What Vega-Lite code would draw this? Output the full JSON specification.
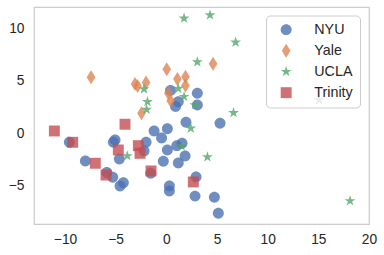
{
  "$schema": "https://vega.github.io/schema/vega-lite/v6.json",
  "width": 335,
  "height": 217,
  "autosize": {"type": "none"},
  "padding": {"left": 34, "top": 7, "right": 15, "bottom": 31},
  "background": "white",
  "data": {
    "values": [
      {"school": "NYU", "x": 0.41, "y": 4.07},
      {"school": "NYU", "x": 3.06, "y": 3.80},
      {"school": "NYU", "x": 3.06, "y": 2.69},
      {"school": "NYU", "x": 1.18, "y": 3.00},
      {"school": "NYU", "x": 0.91, "y": 2.55},
      {"school": "NYU", "x": -9.57, "y": -0.87},
      {"school": "NYU", "x": -5.06, "y": -0.65},
      {"school": "NYU", "x": -5.23, "y": -0.87},
      {"school": "NYU", "x": -1.21, "y": 0.21},
      {"school": "NYU", "x": 0.10, "y": 0.42},
      {"school": "NYU", "x": 1.94, "y": 1.04},
      {"school": "NYU", "x": 5.30, "y": 0.94},
      {"school": "NYU", "x": -0.47, "y": -0.46},
      {"school": "NYU", "x": -2.00, "y": -0.87},
      {"school": "NYU", "x": -2.20, "y": -1.70},
      {"school": "NYU", "x": -4.64, "y": -2.46},
      {"school": "NYU", "x": 0.10, "y": -1.60},
      {"school": "NYU", "x": 1.03, "y": -1.19},
      {"school": "NYU", "x": 1.55, "y": -0.96},
      {"school": "NYU", "x": 1.85, "y": -2.17},
      {"school": "NYU", "x": -0.30, "y": -2.68},
      {"school": "NYU", "x": 1.18, "y": -2.84},
      {"school": "NYU", "x": -7.99, "y": -2.65},
      {"school": "NYU", "x": -5.88, "y": -3.75},
      {"school": "NYU", "x": -5.29, "y": -4.20},
      {"school": "NYU", "x": -4.24, "y": -4.72},
      {"school": "NYU", "x": -4.57, "y": -5.03},
      {"school": "NYU", "x": -1.54, "y": -3.82},
      {"school": "NYU", "x": 0.30, "y": -5.03},
      {"school": "NYU", "x": 0.30, "y": -5.51},
      {"school": "NYU", "x": 2.93, "y": -4.18},
      {"school": "NYU", "x": 2.83, "y": -6.00},
      {"school": "NYU", "x": 4.74, "y": -6.11},
      {"school": "NYU", "x": 5.13, "y": -7.64},
      {"school": "Yale", "x": -7.43, "y": 5.33},
      {"school": "Yale", "x": -3.09, "y": 4.69},
      {"school": "Yale", "x": -2.84, "y": 4.50},
      {"school": "Yale", "x": -2.00, "y": 4.82},
      {"school": "Yale", "x": -2.45, "y": 1.90},
      {"school": "Yale", "x": 0.04, "y": 6.09},
      {"school": "Yale", "x": 0.20, "y": 3.80},
      {"school": "Yale", "x": 0.43, "y": 3.10},
      {"school": "Yale", "x": 1.09, "y": 5.17},
      {"school": "Yale", "x": 1.89, "y": 5.39},
      {"school": "Yale", "x": 1.89, "y": 4.55},
      {"school": "Yale", "x": 4.61, "y": 6.63},
      {"school": "UCLA", "x": 1.75, "y": 10.96},
      {"school": "UCLA", "x": 4.31, "y": 11.27},
      {"school": "UCLA", "x": 6.83, "y": 8.67},
      {"school": "UCLA", "x": 3.06, "y": 6.79},
      {"school": "UCLA", "x": -2.20, "y": 4.21},
      {"school": "UCLA", "x": 1.18, "y": 4.26},
      {"school": "UCLA", "x": 1.75, "y": 3.48},
      {"school": "UCLA", "x": 2.83, "y": 2.69},
      {"school": "UCLA", "x": -1.86, "y": 3.00},
      {"school": "UCLA", "x": -1.95, "y": 2.26},
      {"school": "UCLA", "x": 2.41, "y": 0.47},
      {"school": "UCLA", "x": 1.50, "y": -1.22},
      {"school": "UCLA", "x": -3.85, "y": -2.17},
      {"school": "UCLA", "x": 4.05, "y": -2.27},
      {"school": "UCLA", "x": 6.63, "y": 1.95},
      {"school": "UCLA", "x": 15.07, "y": 3.17},
      {"school": "UCLA", "x": 18.13, "y": -6.46},
      {"school": "Trinity", "x": -11.05, "y": 0.21},
      {"school": "Trinity", "x": -4.08, "y": 0.85},
      {"school": "Trinity", "x": -9.24, "y": -0.87},
      {"school": "Trinity", "x": -4.74, "y": -1.60},
      {"school": "Trinity", "x": -2.76, "y": -1.19},
      {"school": "Trinity", "x": -2.60, "y": -1.92},
      {"school": "Trinity", "x": -7.01, "y": -2.87},
      {"school": "Trinity", "x": -5.95, "y": -3.99},
      {"school": "Trinity", "x": -1.51, "y": -3.60},
      {"school": "Trinity", "x": 2.66, "y": -4.65}
    ]
  },
  "mark": {"type": "point", "filled": true, "opacity": 0.8, "size": 196, "strokeWidth": 0},
  "encoding": {
    "x": {
      "field": "x", "type": "quantitative",
      "scale": {"domain": [-13.06, 20.0], "nice": false, "zero": false},
      "axis": {"values": [-10, -5, 0, 5, 10, 15, 20], "title": null, "labelFlush": false}
    },
    "y": {
      "field": "y", "type": "quantitative",
      "scale": {"domain": [-8.66, 12.03], "nice": false, "zero": false},
      "axis": {"values": [-5, 0, 5, 10], "title": null}
    },
    "color": {
      "field": "school", "type": "nominal",
      "scale": {"domain": ["NYU", "Yale", "UCLA", "Trinity"], "range": ["#4C72B0", "#DD8452", "#55A868", "#C44E52"]},
      "legend": {
        "title": null, "orient": "none", "legendX": 232, "legendY": 8.5,
        "padding": 7, "symbolOffset": 6, "labelOffset": 21, "rowPadding": 6,
        "symbolSize": 196, "symbolOpacity": 0.8, "symbolStrokeWidth": 0,
        "labelFont": "Liberation Sans", "labelFontSize": 14.3, "labelColor": "#262626",
        "strokeColor": "#cccccc", "fillColor": "rgba(255,255,255,0.8)", "cornerRadius": 4
      }
    },
    "shape": {
      "field": "school", "type": "nominal",
      "scale": {
        "domain": ["NYU", "Yale", "UCLA", "Trinity"],
        "range": [
          "M0.78,0A0.78,0.78,0,1,1,-0.78,0A0.78,0.78,0,1,1,0.78,0Z",
          "M0,-1L0.62,0L0,1L-0.62,0Z",
          "M0,-0.82L0.184,-0.253L0.78,-0.253L0.298,0.097L0.482,0.663L0,0.313L-0.482,0.663L-0.298,0.097L-0.78,-0.253L-0.184,-0.253Z",
          "M-0.78,-0.78L0.78,-0.78L0.78,0.78L-0.78,0.78Z"
        ]
      },
      "legend": {
        "title": null, "orient": "none", "legendX": 232, "legendY": 8.5,
        "padding": 7, "symbolOffset": 6, "labelOffset": 21, "rowPadding": 6,
        "symbolSize": 196, "symbolOpacity": 0.8, "symbolStrokeWidth": 0,
        "labelFont": "Liberation Sans", "labelFontSize": 14.3, "labelColor": "#262626",
        "strokeColor": "#cccccc", "fillColor": "rgba(255,255,255,0.8)", "cornerRadius": 4
      }
    }
  },
  "config": {
    "view": {"stroke": "#cccccc", "strokeWidth": 1.25},
    "axis": {
      "grid": false, "domain": false, "ticks": false, "tickSize": 0,
      "labelFont": "Liberation Sans", "labelFontSize": 13.75, "labelColor": "#262626",
      "labelPadding": 8
    },
    "axisY": {"labelPadding": 10}
  }
}
